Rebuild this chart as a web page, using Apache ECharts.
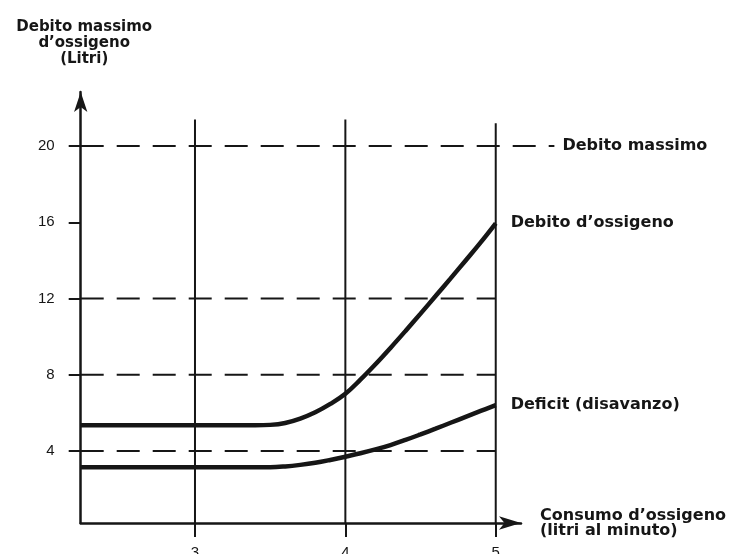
<!DOCTYPE html>
<html>
<head>
<meta charset="utf-8">
<title>Debito d'ossigeno</title>
<script src="https://cdn.jsdelivr.net/npm/echarts@6/dist/echarts.min.js"></script>
<style>
    html, body { margin: 0; padding: 0; background: #fff; }
    #main { width: 730px; height: 554px; }
</style>
</head>
<body>
<div id="main"></div>
<script>
// valori
var xTicks = [3, 4, 5];
var yTicks = [4, 8, 12, 16, 20];

var debitoX = [2.24, 3.4, 3.5, 3.6, 3.7, 3.8, 3.9, 4.0, 4.1, 4.2, 4.3, 4.4, 4.5, 4.6, 4.7, 4.8, 4.9, 5.0];
var debitoY = [5.35, 5.35, 5.37, 5.47, 5.7, 6.03, 6.47, 7.0, 7.74, 8.55, 9.41, 10.3, 11.21, 12.13, 13.06, 14.0, 14.95, 15.95];

var deficitX = [2.24, 3.4, 3.5, 3.6, 3.7, 3.8, 3.9, 4.0, 4.1, 4.2, 4.3, 4.4, 4.5, 4.6, 4.7, 4.8, 4.9, 5.0];
var deficitY = [3.15, 3.15, 3.15, 3.19, 3.27, 3.38, 3.53, 3.7, 3.88, 4.08, 4.31, 4.58, 4.87, 5.17, 5.48, 5.79, 6.1, 6.41];

var refLevels = [4, 8, 12];
var refEnd = 5;
var maxLevel = 20;
var maxEnd = 5.39;

var gridLinesX = [3, 4, 5];
var gridLinesTop = [21.4, 21.4, 21.2];

var xMin = 2.24, xMax = 5.168;
var yMin = 0.22, yMax = 22.84;

var ink = '#161616';
var tickFont = 'Liberation Sans, Arial, sans-serif';
var textFont = 'DejaVu Sans, sans-serif';

// larghezza di un'unità sull'asse x (px)
var xUnit = (521 - 80.7) / (xMax - xMin);

function pairs(xs, ys) {
    var out = [];
    for (var i = 0; i < xs.length; i++) out.push([xs[i], ys[i]]);
    return out;
}

var series = [];

// linee verticali
for (var i = 0; i < gridLinesX.length; i++) {
    series.push({
        type: 'line',
        data: [[gridLinesX[i], yMin], [gridLinesX[i], gridLinesTop[i]]],
        symbol: 'none',
        silent: true,
        lineStyle: { color: ink, width: 2 }
    });
}

// linee tratteggiate
for (var j = 0; j < refLevels.length; j++) {
    series.push({
        type: 'line',
        data: [[xMin, refLevels[j]], [refEnd, refLevels[j]]],
        symbol: 'none',
        silent: true,
        lineStyle: { color: ink, width: 2, type: [23, 13] }
    });
}

// debito massimo: va oltre la fine dell'asse x, quindi su una seconda griglia più larga
series.push({
    type: 'line',
    xAxisIndex: 1,
    yAxisIndex: 1,
    data: [[xMin, maxLevel], [maxEnd, maxLevel]],
    symbol: 'none',
    silent: true,
    lineStyle: { color: ink, width: 2, type: [23, 13] },
    endLabel: {
        show: true,
        formatter: 'Debito massimo',
        distance: 8,
        color: ink,
        fontSize: 16,
        fontWeight: 'bold',
        fontFamily: textFont
    }
});

// curve
var curves = [
    { name: 'Debito d\u2019ossigeno', data: pairs(debitoX, debitoY) },
    { name: 'Deficit (disavanzo)', data: pairs(deficitX, deficitY) }
];
curves.forEach(function (c) {
    series.push({
        name: c.name,
        type: 'line',
        data: c.data,
        smooth: 0.4,
        symbol: 'none',
        lineStyle: { color: ink, width: 4.5 },
        endLabel: {
            show: true,
            formatter: c.name,
            distance: 15,
            color: ink,
            fontSize: 16,
            fontWeight: 'bold',
            fontFamily: textFont
        }
    });
});

var myChart = echarts.init(document.getElementById('main'));

var hiddenAxis = {
    type: 'value',
    gridIndex: 1,
    axisLine: { show: false },
    axisTick: { show: false },
    axisLabel: { show: false },
    splitLine: { show: false }
};

var option = {
    animation: false,
    backgroundColor: '#fff',
    grid: [{
        left: 80.7,
        right: 730 - 521,
        top: 92,
        bottom: 31,
        containLabel: false,
        outerBoundsMode: 'none'
    }, {
        left: 80.7,
        right: 730 - (80.7 + (maxEnd - xMin) * xUnit),
        top: 92,
        bottom: 31,
        containLabel: false,
        outerBoundsMode: 'none'
    }],
    xAxis: [{
        type: 'value',
        min: xMin,
        max: xMax,
        axisLine: {
            show: true,
            onZero: false,
            symbol: ['none', 'arrow'],
            symbolSize: [10, 22],
            lineStyle: { color: ink, width: 2.5 }
        },
        axisTick: {
            show: true,
            length: 14,
            customValues: xTicks,
            lineStyle: { color: ink, width: 2 }
        },
        axisLabel: {
            customValues: xTicks,
            margin: 22,
            color: ink,
            fontSize: 15,
            fontFamily: tickFont
        },
        splitLine: { show: false },
        name: 'Consumo d\u2019ossigeno\n(litri al minuto)',
        nameLocation: 'end',
        nameGap: 19,
        nameTextStyle: {
            align: 'left',
            verticalAlign: 'middle',
            lineHeight: 15,
            color: ink,
            fontSize: 16,
            fontWeight: 'bold',
            fontFamily: textFont
        }
    }, Object.assign({}, hiddenAxis, { min: xMin, max: maxEnd })],
    yAxis: [{
        type: 'value',
        min: yMin,
        max: yMax,
        axisLine: {
            show: true,
            onZero: false,
            symbol: ['none', 'arrow'],
            symbolSize: [10, 20],
            lineStyle: { color: ink, width: 2.5 }
        },
        axisTick: {
            show: true,
            length: 12,
            customValues: yTicks,
            lineStyle: { color: ink, width: 2 }
        },
        axisLabel: {
            customValues: yTicks,
            margin: 26,
            color: ink,
            fontSize: 15,
            fontFamily: tickFont
        },
        splitLine: { show: false },
        name: 'Debito massimo\nd\u2019ossigeno\n(Litri)',
        nameLocation: 'end',
        nameGap: 25,
        nameTextStyle: {
            align: 'center',
            verticalAlign: 'bottom',
            lineHeight: 16,
            padding: [0, 0, 0, 7],
            color: ink,
            fontSize: 15,
            fontWeight: 'bold',
            fontFamily: textFont
        }
    }, Object.assign({}, hiddenAxis, { min: yMin, max: yMax })],
    series: series
};

myChart.setOption(option);
</script>
</body>
</html>
